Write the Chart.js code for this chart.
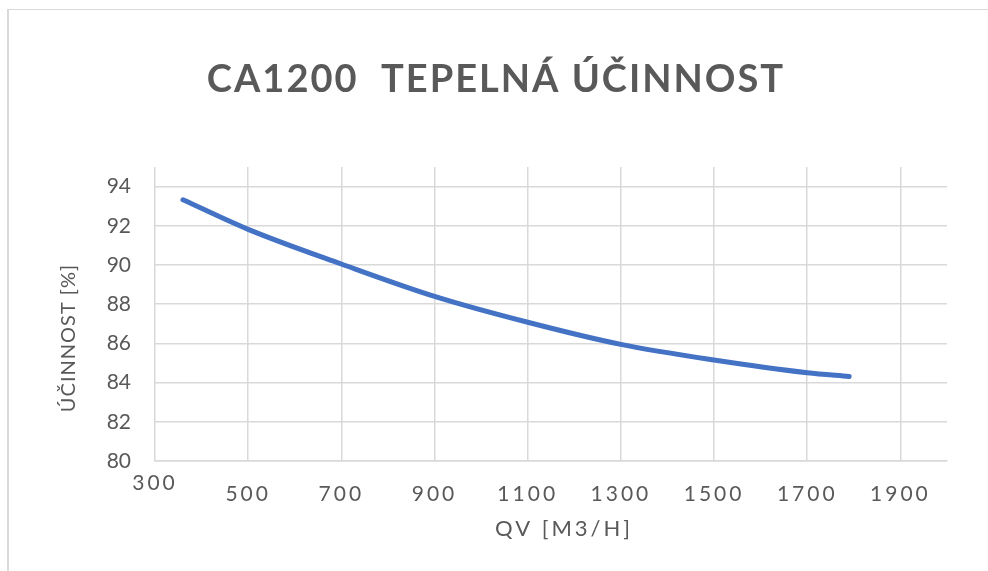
<!DOCTYPE html>
<html>
<head>
<meta charset="utf-8">
<script src="https://cdn.jsdelivr.net/npm/chart.js@4.4.1/dist/chart.umd.min.js"></script>
<style>
  body { margin: 0; background: #fff; }
  #frame {
    position: absolute; left: 7px; top: 9px; width: 1000px; height: 600px;
    border-left: 2px solid #d9d9d9; border-top: 1px solid #d9d9d9;
  }
  #cnv { position: absolute; left: 0; top: 0; }
</style>
</head>
<body>
<div id="frame"></div>
<canvas id="cnv" width="988" height="571"></canvas>
<script>
// Data
const chartTitle = 'CA1200  TEPELNÁ ÚČINNOST';
const xTitle = 'QV [M3/H]';
const yTitle = 'ÚČINNOST [%]';
const flowValues = [360, 500, 700, 900, 1100, 1300, 1500, 1700, 1790];
const efficiencyValues = [93.33, 91.82, 90.05, 88.4, 87.08, 85.95, 85.15, 84.5, 84.31];
const xTicks = [300, 500, 700, 900, 1100, 1300, 1500, 1700, 1900];
const yTicks = [80, 82, 84, 86, 88, 90, 92, 94];

const textColor = '#595959';
const gridColor = '#d9d9d9';

// titulek a popisky os
const textPlugin = {
  id: 'texts',
  beforeDraw(chart) {
    // rozestup znaku u popisku osy X
    const s = chart.scales.x;
    if (!s._spaced) {
      const orig = s.drawLabels.bind(s);
      s.drawLabels = function (area) {
        chart.ctx.letterSpacing = '3px';
        orig(area);
        chart.ctx.letterSpacing = '0px';
      };
      s._spaced = true;
    }
  },
  afterDraw(chart) {
    const ctx = chart.ctx;
    ctx.save();
    ctx.fillStyle = textColor;
    ctx.textAlign = 'center';
    ctx.textBaseline = 'alphabetic';

    ctx.font = 'bold 38px Lato';
    ctx.letterSpacing = '2px';
    ctx.fillText(chartTitle, 496, 92);

    ctx.font = '22px Lato';
    ctx.letterSpacing = '3px';
    ctx.fillText(xTitle, 564, 536);

    ctx.translate(75, 338);
    ctx.rotate(-Math.PI / 2);
    ctx.font = '20px Lato';
    ctx.letterSpacing = '1px';
    ctx.fillText(yTitle, 0, 0);
    ctx.restore();
  }
};

const ctx = document.getElementById('cnv').getContext('2d');
new Chart(ctx, {
  type: 'line',
  data: {
    datasets: [{
      data: flowValues.map((x, i) => ({ x: x, y: efficiencyValues[i] })),
      borderColor: '#4472C4',
      borderWidth: 5,
      borderCapStyle: 'round',
      pointRadius: 0,
      cubicInterpolationMode: 'monotone',
      fill: false
    }]
  },
  options: {
    responsive: false,
    animation: false,
    layout: { padding: { top: 167, left: 0, right: 41, bottom: 0 } },
    plugins: { legend: { display: false }, tooltip: { enabled: false } },
    scales: {
      x: {
        type: 'linear',
        min: 300,
        max: 2000,
        afterBuildTicks: (scale) => { scale.ticks = xTicks.map(v => ({ value: v })); },
        afterFit: (scale) => { scale.height = 110; },
        grid: { color: gridColor, lineWidth: 1.5, drawTicks: false },
        border: { color: gridColor, width: 1.5 },
        ticks: {
          color: textColor,
          font: { family: 'Lato', size: 21, lineHeight: 0.5 },
          padding: 17,
          maxRotation: 0,
          autoSkip: false,
          // popisek 300 je v originale o neco vys
          callback: (v) => v === 300 ? String(v) : ['', String(v)]
        }
      },
      y: {
        min: 80,
        max: 95,
        afterBuildTicks: (scale) => { scale.ticks = yTicks.map(v => ({ value: v })); },
        afterFit: (scale) => { scale.width = 155; },
        grid: { color: gridColor, lineWidth: 1.5, drawTicks: false },
        border: { display: false },
        ticks: {
          color: textColor,
          font: { family: 'Lato', size: 21 },
          padding: 24
        }
      }
    }
  },
  plugins: [textPlugin]
});
</script>
</body>
</html>
